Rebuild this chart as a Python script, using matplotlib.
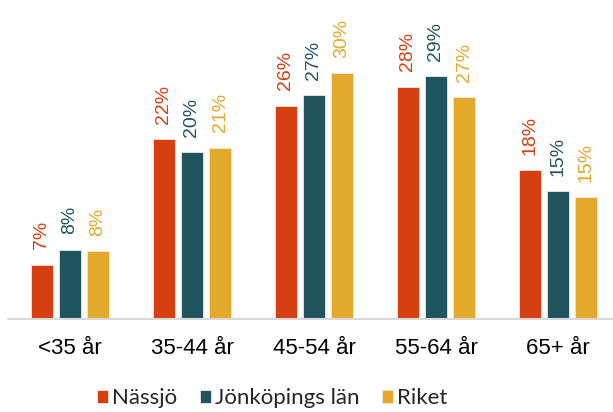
import numpy as np
import matplotlib
matplotlib.use("Agg")
import matplotlib.pyplot as plt

plt.rcParams['font.family'] = ['Liberation Sans', 'DejaVu Sans']

categories = ["<35 år", "35-44 år", "45-54 år", "55-64 år", "65+ år"]
series = ["Nässjö", "Jönköpings län", "Riket"]
nassjo = [6.6, 21.8, 25.9, 28.2, 18.1]
jonkoping = [8.4, 20.2, 27.2, 29.5, 15.5]
riket = [8.2, 20.8, 29.8, 26.9, 14.8]
labels_nassjo = ["7%", "22%", "26%", "28%", "18%"]
labels_jonkoping = ["8%", "20%", "27%", "29%", "15%"]
labels_riket = ["8%", "21%", "30%", "27%", "15%"]

colors = ["#D63F11", "#20555F", "#E3A92B"]
values = [nassjo, jonkoping, riket]
labels = [labels_nassjo, labels_jonkoping, labels_riket]

fig = plt.figure(figsize=(6.13, 4.12), dpi=100)
ax = fig.add_axes([8/613, 93/412, 605/613, 319/412])

x = np.arange(len(categories))
w = 0.18
step = 0.23
for i in range(3):
    pos = x + (i - 1) * step
    bars = ax.bar(pos, values[i], w, color=colors[i], label=series[i],
                  edgecolor="#f2e6e0", linewidth=0.6)
    for b, lab in zip(bars, labels[i]):
        ax.annotate(lab, xy=(b.get_x() + b.get_width() / 2, b.get_height()),
                    xytext=(0, 11), textcoords="offset points",
                    rotation=90, ha="center", va="bottom",
                    color=colors[i], fontsize=14)

ax.set_xlim(-0.508, 4.451)
ax.set_ylim(0, 38.7)
ax.set_xticks(x)
ax.set_xticklabels(categories, fontsize=16, color="black")
ax.tick_params(axis="x", length=0, pad=14)
ax.set_yticks([])
for s in ["top", "right", "left"]:
    ax.spines[s].set_visible(False)
ax.spines["bottom"].set_color("#d9d9d9")
ax.spines["bottom"].set_linewidth(1.5)

leg = fig.legend(loc="lower center", bbox_to_anchor=(0.444, -0.04), ncol=3,
                 frameon=False, handlelength=0.5, handleheight=0.5,
                 handletextpad=0.2, columnspacing=1.0,
                 prop={"family": "Lato", "weight": "normal", "size": 16})
for t in leg.get_texts():
    t.set_color("#262626")

fig.savefig("out.png", dpi=100)
